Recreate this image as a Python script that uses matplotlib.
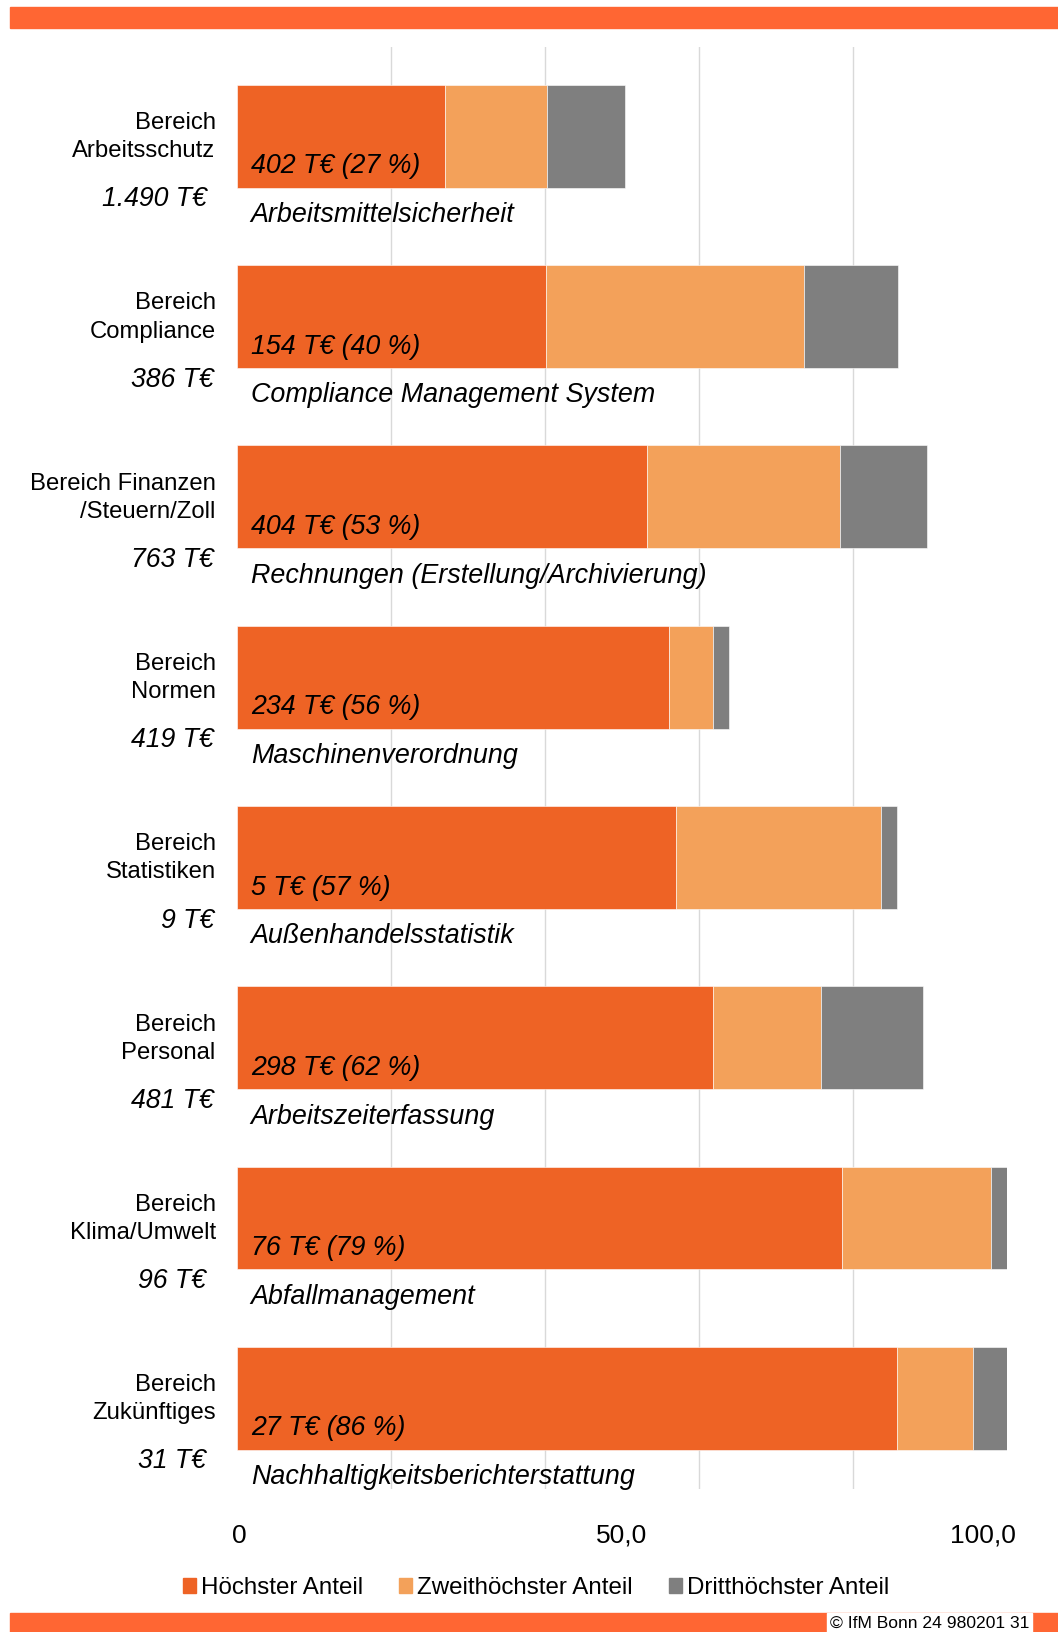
import matplotlib
matplotlib.use("Agg")
import matplotlib.pyplot as plt
import matplotlib.transforms as mtransforms
from matplotlib.patches import Patch, Rectangle
from matplotlib.ticker import FixedLocator

plt.rcParams['font.family'] = ['Liberation Sans', 'DejaVu Sans']

# data
categories = ["Bereich\nArbeitsschutz", "Bereich\nCompliance", "Bereich Finanzen\n/Steuern/Zoll",
              "Bereich\nNormen", "Bereich\nStatistiken", "Bereich\nPersonal",
              "Bereich\nKlima/Umwelt", "Bereich\nZukünftiges"]
totals = ["1.490 T€ ", "386 T€", "763 T€", "419 T€", "9 T€", "481 T€", "96 T€ ", "31 T€ "]
topics = ["Arbeitsmittelsicherheit", "Compliance Management System",
          "Rechnungen (Erstellung/Archivierung)", "Maschinenverordnung",
          "Außenhandelsstatistik", "Arbeitszeiterfassung", "Abfallmanagement",
          "Nachhaltigkeitsberichterstattung"]
top_labels = ["402 T€ (27 %)", "154 T€ (40 %)", "404 T€ (53 %)", "234 T€ (56 %)",
              "5 T€ (57 %)", "298 T€ (62 %)", "76 T€ (79 %)", "27 T€ (86 %)"]
first = [27.1, 40.2, 53.3, 56.1, 57.1, 61.9, 78.6, 85.8]
second = [13.2, 33.5, 25.0, 5.8, 26.6, 14.0, 19.3, 9.8]
third = [10.1, 12.2, 11.3, 2.1, 2.0, 13.2, 2.1, 4.4]
series_names = ["Höchster Anteil", "Zweithöchster Anteil", "Dritthöchster Anteil"]
xticks = [0, 50, 100]
xtick_labels = ["0", "50,0", "100,0"]

c1, c2, c3 = "#EE6325", "#F3A15A", "#7F7F7F"
band = "#FF6633"

W, H = 1058, 1632
fig = plt.figure(figsize=(W / 100, H / 100), dpi=100)

# orange bands top and bottom
fig.patches.append(Rectangle((10 / W, 1 - 28 / H), 1, 21 / H, transform=fig.transFigure,
                             color=band, zorder=0))
fig.patches.append(Rectangle((10 / W, 0), 1, 19 / H, transform=fig.transFigure,
                             color=band, zorder=0))
fig.patches.append(Rectangle((827 / W, 0), 205 / W, 19 / H, transform=fig.transFigure,
                             color="white", zorder=1))
fig.text(1029 / W, 9 / H, "© IfM Bonn 24 980201 31", ha="right", va="center",
         fontsize=12.6, zorder=2)

ax = fig.add_axes([236.7 / W, 1 - 1489 / H, 770 / W, (1489 - 47) / H])
y = list(range(len(categories)))
left2 = [a for a in first]
left3 = [a + b for a, b in zip(first, second)]
ax.barh(y, first, height=0.57, color=c1, edgecolor="white", linewidth=0.4, zorder=3)
ax.barh(y, second, left=left2, height=0.57, color=c2, edgecolor="white", linewidth=0.4, zorder=3)
ax.barh(y, third, left=left3, height=0.57, color=c3, edgecolor="white", linewidth=0.4, zorder=3)

ax.set_xlim(0, 100)
ax.set_ylim(7.503, -0.495)
ax.xaxis.set_major_locator(FixedLocator(xticks))
ax.set_xticklabels(xtick_labels, fontsize=19)
ax.xaxis.set_minor_locator(FixedLocator([0, 20, 40, 60, 80, 100]))
ax.grid(which="minor", axis="x", color="#D9D9D9", linewidth=1.0, zorder=0)
ax.grid(which="major", visible=False)
ax.tick_params(axis="x", which="both", length=0, pad=25)
ax.set_yticks([])
for s in ax.spines.values():
    s.set_visible(False)

lbls = ax.get_xticklabels()
lbls[0].set_transform(lbls[0].get_transform() + mtransforms.ScaledTranslation(0.03, 0, fig.dpi_scale_trans))
lbls[-1].set_transform(lbls[-1].get_transform() + mtransforms.ScaledTranslation(-0.24, 0, fig.dpi_scale_trans))

txt_in = mtransforms.offset_copy(ax.transData, fig=fig, x=14, y=0, units="dots")
txt_cat = mtransforms.offset_copy(ax.transData, fig=fig, x=-21, y=0, units="dots")
txt_tot = mtransforms.offset_copy(ax.transData, fig=fig, x=-23, y=0, units="dots")
for i in y:
    ax.text(0, i + 0.167, top_labels[i], transform=txt_in, ha="left", va="center",
            fontsize=19.3, style="italic", zorder=4)
    ax.text(0, i + 0.437, topics[i], transform=txt_in, ha="left", va="center",
            fontsize=19.4, style="italic", zorder=4)
    ax.text(0, i + 0.005, categories[i], transform=txt_cat, ha="right", va="center",
            fontsize=17.2, linespacing=1.36, clip_on=False)
    ax.text(0, i + 0.35, totals[i], transform=txt_tot, ha="right", va="center",
            fontsize=19.2, style="italic", clip_on=False)

handles = [Patch(color=c, label=n) for c, n in zip([c1, c2, c3], series_names)]
fig.legend(handles=handles, loc="center", bbox_to_anchor=(536 / W, 1 - 1588 / H), ncol=3,
           frameon=False, fontsize=17.4, handlelength=0.55, handleheight=0.55,
           handletextpad=0.2, columnspacing=1.5, borderaxespad=0)

fig.savefig("out.png", dpi=100)
